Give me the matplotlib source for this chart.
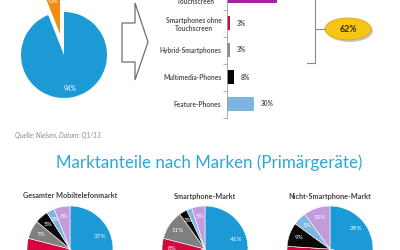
import matplotlib.pyplot as plt
from matplotlib.patches import Ellipse, Polygon

plt.rcParams['font.family'] = ['Lato', 'DejaVu Sans']

# top pie: smartphone vs rest
top_pie_values = [6, 94]
top_pie_colors = ['#F28C0F', '#1B9AD6']

# bar chart of device types
bar_labels = ['Smartphones mit\nTouchscreen', 'Smartphones ohne\nTouchscreen',
              'Hybrid-Smartphones', 'Multimedia-Phones', 'Feature-Phones']
bar_values = [56, 3, 3, 8, 30]
bar_colors = ['#A2239F', '#D4093F', '#8C8C8C', '#050505', '#7DB5E1']
bracket_total = '62%'

# brand pies (clockwise from top)
brand_colors = ['#1B9AD6', '#F28C0F', '#D5073F', '#7F7F7F', '#0A0A0A', '#7EB6E0', '#C39BDD']
pie_titles = ['Gesamter Mobiltelefonmarkt', 'Smartphone-Markt', 'Nicht-Smartphone-Markt']
pie_total = [37, 29, 13, 7, 5, 3, 6]
pie_smart = [41, 30, 8, 11, 3, 2, 5]
pie_nonsmart = [29, 32, 15, 0, 9, 5, 10]

title = 'Marktanteile nach Marken (Primärgeräte)'
source = 'Quelle: Nielsen, Datum: Q1/13'

W, H = 400, 250
fig = plt.figure(figsize=(4, 2.5), dpi=100)


def px_axes(left, top, w, h):
    return fig.add_axes([left / W, 1 - (top + h) / H, w / W, h / H])


def pct(p):
    return f'{p:.0f}%' if p > 2.5 else ''


# overlay for shapes and free text
over = px_axes(0, 0, W, H)
over.set_xlim(0, W)
over.set_ylim(H, 0)
over.axis('off')

# top pie
ax = px_axes(21, 12, 86, 86)
wedges, _, autotexts = ax.pie(top_pie_values, colors=top_pie_colors, startangle=90,
                              explode=[0.5, 0], autopct=pct, pctdistance=0.8,
                              textprops=dict(color='white', fontsize=4.8))
for w in wedges:
    w.set_clip_on(False)
for t in autotexts:
    t.set_clip_on(False)
ax.set_xlim(-1, 1)
ax.set_ylim(-1, 1)

# block arrow
arrow = Polygon([(122, 23), (135, 23), (135, 3), (148, 42), (135, 80), (135, 62), (122, 62)],
                closed=True, facecolor='white', edgecolor='#6E6E6E', lw=0.9)
over.add_patch(arrow)

# bar chart
bx = px_axes(227, -17.5, 90, 135)
ypos = list(range(len(bar_values)))
bx.barh(ypos, bar_values, height=0.52, color=bar_colors)
bx.set_xlim(0, 100)
bx.set_ylim(4.5, -0.5)
bx.set_yticks(ypos)
bx.set_yticklabels(bar_labels, fontsize=4.8, color='#555555', fontweight='bold',
                   multialignment='center')
bx.set_yticks([i - 0.5 for i in range(len(bar_values) + 1)], minor=True)
bx.tick_params(axis='y', which='major', length=0, pad=4)
bx.tick_params(axis='y', which='minor', length=3, color='#A0A0A0', width=0.6)
bx.set_xticks([])
for s in ['top', 'right', 'bottom']:
    bx.spines[s].set_visible(False)
bx.spines['left'].set_color('#A0A0A0')
bx.spines['left'].set_linewidth(0.6)
bx.patch.set_alpha(0)
for y, v in zip(ypos, bar_values):
    bx.annotate(f'{v}%', (v, y), xytext=(5, 0), textcoords='offset points',
                va='center', fontsize=4.8, color='#555555', fontweight='bold')

# bracket and yellow badge
over.plot([315, 315, 307], [0, 63, 63], color='#8C8C8C', lw=0.8)
over.plot([315, 325], [29, 29], color='#8C8C8C', lw=0.8)
over.add_patch(Ellipse((350, 31), 46, 22, facecolor='#C8C8C8', edgecolor='none'))
over.add_patch(Ellipse((348, 29), 46, 22, facecolor='#F6C516', edgecolor='#E0A800', lw=0.6))
over.text(348, 29.5, bracket_total, ha='center', va='center', fontsize=6.3,
          fontweight='bold', color='#3A2A00')

# source and title
over.text(15, 135, source, fontsize=4.8, style='italic', color='#8A8A8A', va='center')
over.text(209, 163, title, fontsize=12.2, color='#2AA7DA', ha='center', va='center')

# brand pies
for cx, name, vals in zip([70, 205, 330], pie_titles, [pie_total, pie_smart, pie_nonsmart]):
    over.text(cx, 196, name, ha='center', va='center', fontsize=5.2,
              fontweight='bold', color='#404040')
    pa = px_axes(cx - 43, 206, 86, 86)
    pa.pie(vals, colors=brand_colors, startangle=90, counterclock=False,
           autopct=pct, pctdistance=0.76,
           wedgeprops=dict(edgecolor='white', linewidth=0.4),
           textprops=dict(color='white', fontsize=4.6))
    pa.set_xlim(-1, 1)
    pa.set_ylim(-1, 1)

fig.savefig('out.png', dpi=100, facecolor='white')
